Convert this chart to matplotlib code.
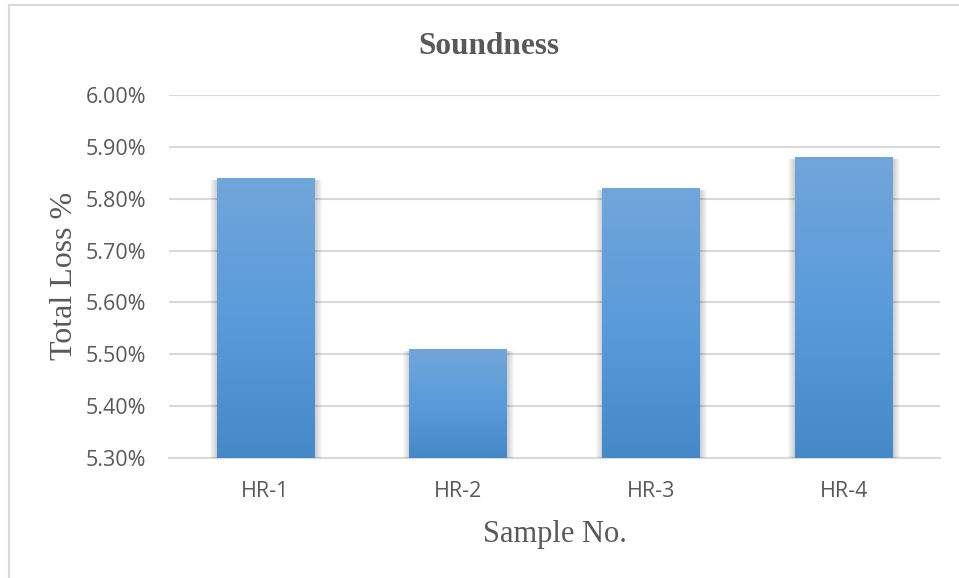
import matplotlib
matplotlib.use("Agg")
import matplotlib.pyplot as plt
import numpy as np
from matplotlib.ticker import PercentFormatter, MultipleLocator
from matplotlib.patches import Rectangle
from matplotlib.lines import Line2D
from matplotlib.colors import LinearSegmentedColormap

categories = ["HR-1", "HR-2", "HR-3", "HR-4"]
total_loss = [0.0584, 0.0551, 0.0582, 0.0588]
title = "Soundness"
xlabel = "Sample No."
ylabel = "Total Loss %"
ymin, ymax, ystep = 0.053, 0.060, 0.001

text_color = "#595959"
grid_color = "#d9d9d9"

fig = plt.figure(figsize=(9.59, 5.78), dpi=100)
fig.patch.set_facecolor("white")
ax = fig.add_axes([169/959, 1-458/578, (940-169)/959, (458-95)/578])

x = np.arange(len(categories))
bars = ax.bar(x, np.array(total_loss) - ymin, bottom=ymin, width=0.505,
              color="none", edgecolor="none", zorder=3)
ax.set_xlim(-0.5, len(categories) - 0.5)
ax.set_ylim(ymin, ymax)
ax.yaxis.set_major_locator(MultipleLocator(ystep))
ax.yaxis.set_major_formatter(PercentFormatter(xmax=1, decimals=2))

# pixel size in data units
inv = ax.transData.inverted()
p0 = inv.transform((0, 0)); p1 = inv.transform((1, 1))
dxp, dyp = p1[0] - p0[0], p1[1] - p0[1]

cmap = LinearSegmentedColormap.from_list("g", ["#4589c9", "#5a9bdb", "#71a6da"])
grad = np.linspace(0, 1, 256).reshape(-1, 1)
for b in bars:
    bx, by, bw, bh = b.get_x(), b.get_y(), b.get_width(), b.get_height()
    # soft shadow
    for k in range(1, 8):
        ax.add_patch(Rectangle((bx - k*dxp + 0.5*dxp, by - k*dyp*0.6),
                               bw + 2*k*dxp, bh + k*dyp*0.6 - 2*dyp,
                               facecolor="black", alpha=0.026, edgecolor="none",
                               zorder=2))
    im = ax.imshow(grad, extent=(bx, bx + bw, by, by + bh), origin="lower",
                   cmap=cmap, aspect="auto", zorder=3)
    im.set_clip_path(b)
ax.set_xlim(-0.5, len(categories) - 0.5)
ax.set_ylim(ymin, ymax)

ax.set_xticks(x)
ax.set_xticklabels(categories)
ax.grid(axis="y", color=grid_color, linewidth=1.5, zorder=0)
ax.set_axisbelow(True)
for s in ["top", "right", "left"]:
    ax.spines[s].set_visible(False)
ax.spines["bottom"].set_color(grid_color)
ax.spines["bottom"].set_linewidth(1.5)
ax.spines["bottom"].set_zorder(1)
ax.tick_params(axis="both", length=0, colors=text_color, labelsize=15.5)
ax.tick_params(axis="y", pad=16.5)
ax.tick_params(axis="x", pad=16.5)
for lab in ax.get_xticklabels() + ax.get_yticklabels():
    lab.set_family("Open Sans")

ax.set_xlabel(xlabel, family="Liberation Serif", fontsize=22, color=text_color, labelpad=13)
fig.text(72/959, 1-276/578, ylabel, family="Liberation Serif", fontsize=23,
         color=text_color, rotation=90, rotation_mode="anchor",
         ha="center", va="baseline")
fig.text((417+561)/2/959, 1-54/578, title, family="Liberation Serif", fontsize=22.5,
         fontweight="bold", color=text_color, ha="center", va="baseline")

# chart border (left and top visible)
fig.add_artist(Line2D([9/959, 9/959], [0, 1-5/578], transform=fig.transFigure,
                      color=grid_color, linewidth=1.5))
fig.add_artist(Line2D([9/959, 1], [1-5/578, 1-5/578], transform=fig.transFigure,
                      color=grid_color, linewidth=1.5))

fig.savefig("out.png", dpi=100, facecolor="white")
